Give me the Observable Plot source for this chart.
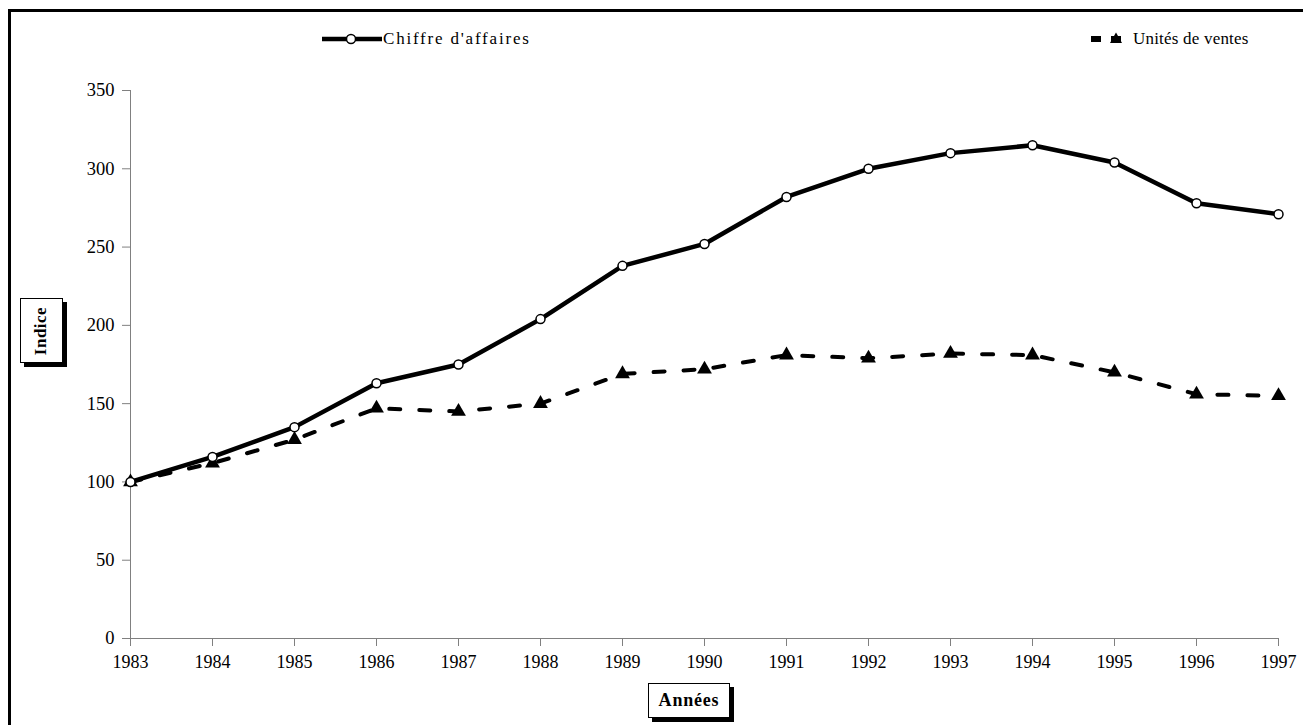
<!DOCTYPE html>
<html>
<head>
<meta charset="utf-8">
<script src="https://cdn.jsdelivr.net/npm/d3@7"></script>
<script src="https://cdn.jsdelivr.net/npm/@observablehq/plot@0.6"></script>
<style>
  html, body { margin: 0; padding: 0; background: #fff; overflow: hidden; }
  #wrap { position: relative; width: 1303px; height: 725px; overflow: hidden; font-family: "Liberation Serif", serif; }
  #frame { position: absolute; left: 8px; top: 9px; width: 1400px; height: 800px; border: 3px solid #000; box-sizing: border-box; pointer-events: none; }
  #chart { position: absolute; left: 0; top: 0; }
  #chart svg text { font-family: "Liberation Serif", serif; }
  .legend { position: absolute; top: 29px; font-size: 17px; display: flex; align-items: center; white-space: nowrap; }
  .box { position: absolute; background: #fff; border: 1px solid #000; box-shadow: 4px 4px 0 #000; box-sizing: border-box; font-weight: bold; display: flex; align-items: center; justify-content: center; }
  #ylab { left: 20px; top: 298px; width: 43px; height: 65px; }
  #ylab span { transform: rotate(-90deg); font-size: 17px; display: inline-block; letter-spacing: 0.5px; }
  #xlab { left: 648px; top: 683px; width: 82px; height: 35px; font-size: 18px; letter-spacing: 0.8px; }
</style>
</head>
<body>
<div id="wrap">
  <div id="chart"></div>
  <div class="legend" style="left:322px;">
    <svg width="60" height="20"><line x1="0" y1="10" x2="60" y2="10" stroke="#000" stroke-width="4.5"/><circle cx="29" cy="10" r="4.5" fill="#fff" stroke="#000" stroke-width="1.5"/></svg>
    <span style="margin-left:1px;letter-spacing:1.8px;">Chiffre d'affaires</span>
  </div>
  <div class="legend" style="left:1090px;">
    <svg width="38" height="20"><line x1="1" y1="10" x2="37" y2="10" stroke="#000" stroke-width="6" stroke-dasharray="10,10"/><path d="M26,3.5 L32,14 L20,14 Z" fill="#000"/></svg>
    <span style="margin-left:5px;letter-spacing:0.2px;">Unités de ventes</span>
  </div>
  <div class="box" id="ylab"><span>Indice</span></div>
  <div class="box" id="xlab">Années</div>
  <div id="frame"></div>
</div>
<script>
const years = [1983, 1984, 1985, 1986, 1987, 1988, 1989, 1990, 1991, 1992, 1993, 1994, 1995, 1996, 1997];
const chiffreAffaires = [100, 116, 135, 163, 175, 204, 238, 252, 282, 300, 310, 315, 304, 278, 271];
const unitesVentes = [100, 112, 127, 147, 145, 150, 169, 172, 181, 179, 182, 181, 170, 156, 155];
const yTicks = [0, 50, 100, 150, 200, 250, 300, 350];

const ca = years.map((y, i) => ({year: y, value: chiffreAffaires[i]}));
const uv = years.map((y, i) => ({year: y, value: unitesVentes[i]}));

const chart = Plot.plot({
  width: 1303,
  height: 725,
  marginLeft: 130,
  marginRight: 25,
  marginTop: 90,
  marginBottom: 87,
  style: {fontFamily: "Liberation Serif, serif", fontSize: "18px", color: "#000", background: "transparent"},
  x: {domain: [1983, 1997], type: "linear"},
  y: {domain: [0, 350]},
  marks: [
    Plot.ruleY([0], {stroke: "#808080", strokeWidth: 1}),
    Plot.ruleX([1983], {stroke: "#808080", strokeWidth: 1}),
    Plot.axisY({ticks: yTicks, tickSize: 8, tickPadding: 8, fontSize: 18.5, stroke: "#808080", fill: "#000", label: null}),
    Plot.axisX({ticks: years, tickSize: 8, tickPadding: 9, fontSize: 18, tickFormat: d => String(d), stroke: "#808080", fill: "#000", label: null}),
    Plot.line(uv, {x: "year", y: "value", stroke: "#000", strokeWidth: 4, strokeDasharray: "11,19"}),
    Plot.dot(uv, {x: "year", y: "value", symbol: "triangle", r: 5.5, fill: "#000", stroke: "none"}),
    Plot.line(ca, {x: "year", y: "value", stroke: "#000", strokeWidth: 4.5}),
    Plot.dot(ca, {x: "year", y: "value", symbol: "circle", r: 4.5, fill: "#fff", stroke: "#000", strokeWidth: 1.5})
  ]
});
document.getElementById("chart").appendChild(chart);
</script>
</body>
</html>
